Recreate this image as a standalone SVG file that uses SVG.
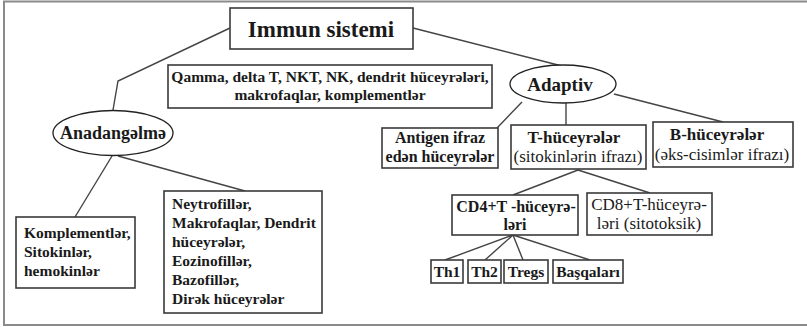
<svg xmlns="http://www.w3.org/2000/svg" width="807" height="327" viewBox="0 0 807 327">
<style>
.box{fill:#fff;stroke:#3a3a3a;stroke-width:1.6}
.ell{fill:#fff;stroke:#222;stroke-width:1.3}
.t{font-family:"Liberation Serif","Times New Roman",serif;font-weight:bold;font-size:15.5px;fill:#1a1a1a}
.n{font-weight:normal}
.c{text-anchor:middle}
.conn line,.conn polyline{stroke:#444;stroke-width:1.4;fill:none}
</style>
<rect x="0" y="0" width="807" height="327" fill="#fff"/>
<rect x="4" y="1.5" width="820" height="323.5" fill="none" stroke="#8a8a8a" stroke-width="2"/>
<g class="conn">
<polyline points="230,28 118,81 113,110"/>
<line x1="413" y1="28" x2="562" y2="66"/>
<line x1="112" y1="156" x2="75" y2="217"/>
<line x1="118" y1="156" x2="245" y2="191"/>
<line x1="522" y1="102" x2="497" y2="128"/>
<line x1="566" y1="103" x2="566" y2="125"/>
<line x1="614" y1="94" x2="723" y2="122"/>
<line x1="578" y1="170" x2="513" y2="195"/>
<line x1="578" y1="170" x2="650" y2="193"/>
<line x1="513" y1="235" x2="445" y2="260"/>
<line x1="513" y1="235" x2="485" y2="260"/>
<line x1="513" y1="235" x2="523" y2="260"/>
<line x1="513" y1="235" x2="590" y2="260"/>
</g>
<g id="immun">
<rect class="box" x="230" y="8" width="183" height="41"/>
<text class="t c" x="321" y="37" style="font-size:23px">Immun sistemi</text>
</g>
<g id="qamma">
<rect class="box" x="168" y="65" width="324" height="43"/>
<text class="t c" x="330" y="82">Qamma, delta T, NKT, NK, dendrit hüceyrələri,</text>
<text class="t c" x="330" y="100">makrofaqlar, komplementlər</text>
</g>
<g id="anadangelme">
<ellipse class="ell" cx="113" cy="133" rx="60" ry="22.5"/>
<text class="t c" x="113" y="139" style="font-size:18px">Anadangəlmə</text>
</g>
<g id="adaptiv">
<ellipse class="ell" cx="563" cy="84" rx="53" ry="19"/>
<text class="t c" x="560" y="91" style="font-size:19px">Adaptiv</text>
</g>
<g id="antigen">
<rect class="box" x="382" y="128" width="116" height="40"/>
<text class="t c" x="440" y="143" style="font-size:16px">Antigen ifraz</text>
<text class="t c" x="440" y="161.5" style="font-size:16px">edən hüceyrələr</text>
</g>
<g id="thuceyre">
<rect class="box" x="511" y="125" width="135" height="44"/>
<text class="t c" x="574" y="143" style="font-size:17px">T-hüceyrələr</text>
<text class="t c n" x="578" y="162" style="font-size:17px">(sitokinlərin ifrazı)</text>
</g>
<g id="bhuceyre">
<rect class="box" x="653" y="122" width="140" height="45"/>
<text class="t c" x="717" y="140" style="font-size:17px">B-hüceyrələr</text>
<text class="t c n" x="722" y="160" style="font-size:17px">(əks-cisimlər ifrazı)</text>
</g>
<g id="cd4">
<rect class="box" x="452" y="195" width="126" height="40"/>
<text class="t c" x="516" y="212" style="font-size:16px">CD4+T -hüceyrə-</text>
<text class="t c" x="515" y="230" style="font-size:16px">ləri</text>
</g>
<g id="cd8">
<rect class="box" x="587" y="193" width="125" height="42"/>
<text class="t c n" x="649" y="210" style="font-size:17px">CD8+T-hüceyrə-</text>
<text class="t c n" x="649" y="229" style="font-size:17px">ləri (sitotoksik)</text>
</g>
<g id="th1">
<rect class="box" x="431" y="260" width="32" height="23"/>
<text class="t c" x="447" y="277">Th1</text>
</g>
<g id="th2">
<rect class="box" x="468" y="260" width="33" height="23"/>
<text class="t c" x="484.5" y="277">Th2</text>
</g>
<g id="tregs">
<rect class="box" x="504" y="260" width="44" height="23"/>
<text class="t c" x="526" y="277">Tregs</text>
</g>
<g id="basqalari">
<rect class="box" x="553" y="260" width="70" height="23"/>
<text class="t c" x="588" y="277">Başqaları</text>
</g>
<g id="komplement">
<rect class="box" x="16" y="217" width="119" height="71"/>
<text class="t" x="24" y="238">Komplementlər,</text>
<text class="t" x="24" y="257">Sitokinlər,</text>
<text class="t" x="24" y="276">hemokinlər</text>
</g>
<g id="neytrofil">
<rect class="box" x="164" y="191" width="158" height="122"/>
<text class="t" x="172" y="209">Neytrofillər,</text>
<text class="t" x="172" y="228">Makrofaqlar, Dendrit</text>
<text class="t" x="172" y="247">hüceyrələr,</text>
<text class="t" x="172" y="266">Eozinofillər,</text>
<text class="t" x="172" y="285">Bazofillər,</text>
<text class="t" x="172" y="304">Dirək hüceyrələr</text>
</g>
</svg>
